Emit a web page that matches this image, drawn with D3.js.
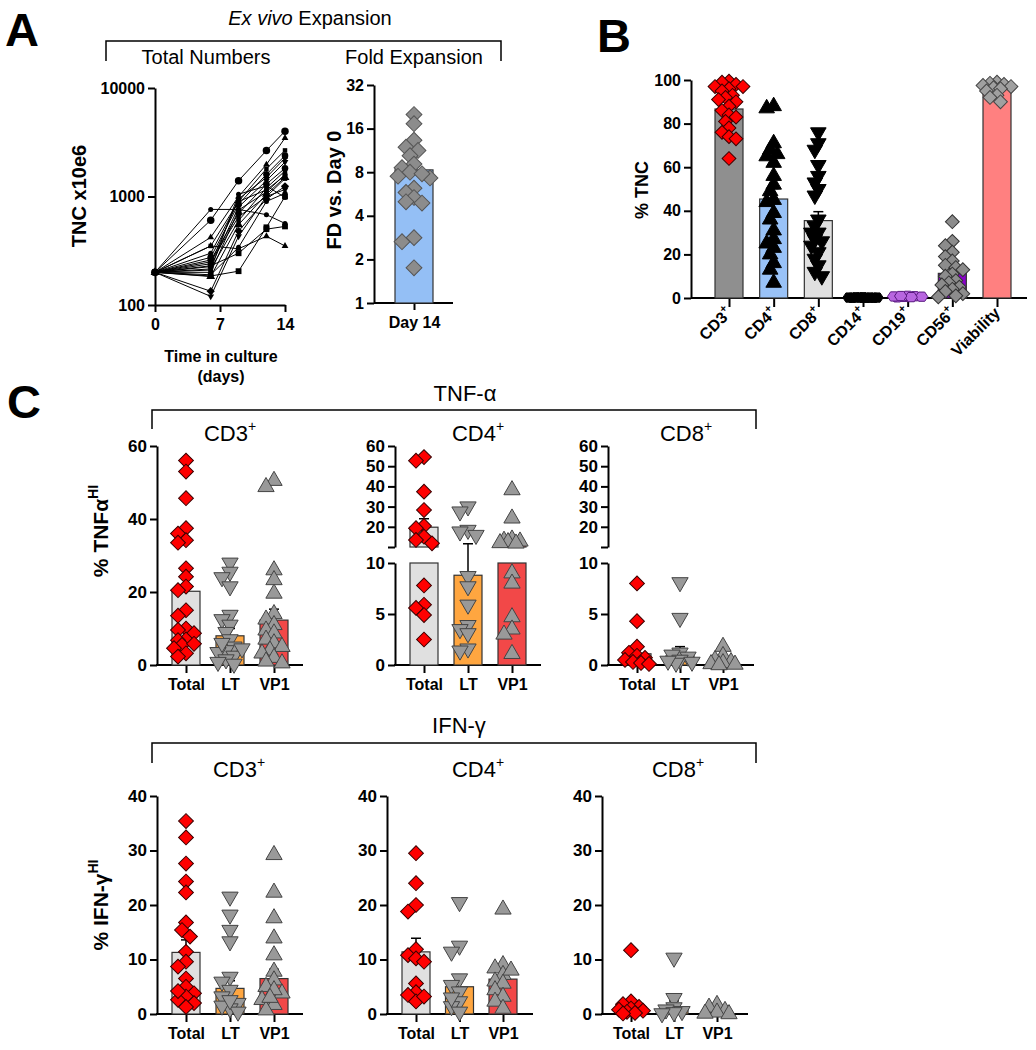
<!DOCTYPE html>
<html><head><meta charset="utf-8">
<script src="https://cdn.jsdelivr.net/npm/d3@7"></script>
<style>body{margin:0;background:#fff}</style>
</head><body>
<svg id="c" width="1036" height="1050"></svg>
<script>
// ================= DATA =================
// Panel A – total nucleated cells (x10e6) per donor over culture days
const days = [0, 6, 9, 12, 14];
const donorTNC = [
  [200, 605, 1400, 2650, 4000],
  [200, 420, 1000, 1970, 3460],
  [200, 350, 900, 1800, 2660],
  [200, 275, 850, 1600, 2380],
  [200, 240, 950, 1500, 2260],
  [200, 226, 800, 1400, 2080],
  [200, 260, 700, 1300, 1820],
  [200, 215, 600, 1200, 1720],
  [200, 200, 750, 1100, 1600],
  [200, 183, 550, 1050, 1500],
  [200, 250, 650, 1000, 1460],
  [200, 300, 900, 1150, 1560],
  [200, 134, 480, 950, 1240],
  [200, 120, 430, 1000, 1160],
  [200, 190, 340, 900, 1070],
  [200, 185, 205, 520, 1000],
  [200, 760, 760, 680, 565],
  [200, 350, 330, 430, 350],
  [200, 230, 300, 500, 530],
  [200, 210, 1050, 1250, 980]
];
const tncTicks = [100, 1000, 10000];
const dayTicks = [0, 7, 14];
const foldTicks = [1, 2, 4, 8, 16, 32];
const foldCategory = ["Day 14"];
const foldMean = [8.3];

// Panel B – phenotype (% TNC)
const pbCategories = ["CD3", "CD4", "CD8", "CD14", "CD19", "CD56", "Viability"];
const pbSuper = ["+", "+", "+", "+", "+", "+", ""];
const pbMeans = [86.7, 45.4, 35.5, 0.2, 0.6, 11.3, 96.7];
const pbSem = [2.2, 4.8, 4.1, 0.05, 0.1, 2.1, 0.6];
const pbCD3 = [99.5, 99, 98, 97, 96, 95, 93, 92, 90, 88, 86, 84, 83, 81, 78, 76, 74, 73, 64, 91, 97];
const pbCD4 = [88, 87, 71, 68, 66, 65, 62, 56, 52, 49, 45, 44, 39, 36, 31, 27, 25, 23, 20, 16, 13, 7];
const pbCD8 = [76, 71, 68, 61, 56, 53, 50, 47, 36, 33, 30, 27, 24, 21, 18, 15, 12, 10, 26, 30];
const pbCD14 = [0.2, 0.1, 0.3, 0.1, 0.2, 0.2, 0.1, 0.3, 0.2, 0.1];
const pbCD19 = [0.5, 0.8, 1.0, 0.3, 0.6, 0.7, 0.4, 0.9];
const pbCD56 = [35, 26, 24, 21, 19, 17, 15, 14, 13, 11, 10, 8, 7, 6, 5, 4, 3, 2, 1, 0.5];
const pbViability = [99, 98.5, 98, 97.5, 97, 96.5, 96, 95, 93, 92, 90];
const yTicksB = [0, 20, 40, 60, 80, 100];

// Panel C – antigen specific cytokine production
const cCategories = ["Total", "LT", "VP1"];
const tnfCD3Total = [56, 53, 45.7, 37.5, 36, 34.2, 33.5, 26.5, 24.2, 21.5, 20.5, 15, 13.5, 10, 9.6, 8.7, 7, 6.8, 5.5, 4.6, 3.2, 2.3, 5.8];
const tnfCD3LT = [28, 25.5, 24, 21.5, 13.7, 12.5, 11, 9, 7, 5, 4, 3.5, 2.5, 1.5, 0.8, 0.3, 4.5, 6];
const tnfCD3VP1 = [50.5, 48.8, 26, 23.3, 19.6, 14, 12.5, 11, 9.5, 8.7, 7, 6, 5, 4, 3.2, 2, 1, 0.5];
const tnfCD3Mean = [20.2, 8.0, 12.3];
const tnfCD3Sem = [3.3, 2.0, 3.0];
const tnfCD4Total = [54.5, 52.7, 37.4, 28.3, 20.4, 19.3, 15.1, 13.5, 11.8, 7.8, 5.9, 5.6, 4.9, 2.5];
const tnfCD4LT = [30, 27.5, 18.4, 17.6, 15.9, 8.7, 7.7, 5.9, 3.9, 3.5, 3.1, 1.6, 1.4];
const tnfCD4VP1 = [38.2, 24.2, 13.8, 13.2, 12.8, 12.5, 12, 11.8, 9, 8, 4.7, 3.5, 3, 1.1];
const tnfCD4Mean = [19.8, 8.8, 10.8];
const tnfCD4Sem = [4.2, 2.8, 2.9];
const tnfCD8Total = [8, 4.3, 1.8, 1.2, 0.9, 0.7, 0.5, 0.3, 0.2, 0.1];
const tnfCD8LT = [8.1, 4.6, 1.2, 1.0, 0.8, 0.5, 0.3, 0.2, 0.4];
const tnfCD8VP1 = [1.8, 0.9, 0.5, 0.3, 0.2, 0.1, 0.05, 0.0];
const tnfCD8Mean = [1.1, 0.9, 0.3];
const tnfCD8Sem = [0.8, 0.9, 0.2];
const ifnCD3Total = [35.4, 32.4, 27.6, 24.3, 22.3, 16.8, 15.4, 14.2, 11.4, 9.6, 8.7, 6.5, 5, 3.8, 3.2, 2.6, 2, 1.3, 4.2];
const ifnCD3LT = [21.5, 18.2, 15.4, 13.3, 6.8, 5.9, 4.4, 3.2, 2, 1, 0.4, 1.5, 2.5];
const ifnCD3VP1 = [29.2, 22.3, 17.6, 13.9, 10.8, 7.8, 6.2, 5, 3.8, 2.6, 1.7, 0.7, 4.4, 3];
const ifnCD3Mean = [11.3, 4.7, 6.5];
const ifnCD3Sem = [2.3, 1.4, 1.7];
const ifnCD4Total = [29.5, 24, 20, 18.8, 11.9, 10.8, 10.2, 9.6, 5.6, 4, 3.5, 2.3, 3.2];
const ifnCD4LT = [20.5, 12.5, 11.4, 6.5, 5.3, 4.1, 2.3, 1.4, 0.4, 3];
const ifnCD4VP1 = [19.2, 9, 8.4, 7.2, 8, 6, 5.6, 4.4, 3.2, 2.3, 1];
const ifnCD4Mean = [11.4, 5.0, 6.4];
const ifnCD4Sem = [2.5, 1.9, 1.6];
const ifnCD8Total = [11.7, 2.3, 1.8, 1.3, 1.0, 0.6, 0.4, 0.2, 0.8, 0.1];
const ifnCD8LT = [10.3, 2.9, 1.2, 0.8, 0.5, 0.3, 0.1];
const ifnCD8VP1 = [1.7, 1.2, 0.6, 0.3, 0.1, 0.0];
const ifnCD8Mean = [1.1, 1.0, 0.3];
const ifnCD8Sem = [1.1, 1.4, 0.2];
const tnfLinTicks = [0, 20, 40, 60];
const tnfLowTicks = [0, 5, 10];
const tnfHighTicks = [10, 20, 30, 40, 50, 60];
const ifnTicks = [0, 10, 20, 30, 40];

// ================= DRAWING =================
const FONT = '"Liberation Sans", Arial, Helvetica, sans-serif';
const svg = d3.select("#c").attr("font-family", FONT);

function txt(g, x, y, s, o = {}) {
  return g.append("text").attr("x", x).attr("y", y).text(s)
    .attr("font-size", o.size || 14).attr("font-weight", o.bold ? "bold" : "normal")
    .attr("font-style", o.italic ? "italic" : "normal")
    .attr("text-anchor", o.anchor || "middle").attr("fill", "#000")
    .attr("font-family", FONT);
}
function supText(g, x, y, main, sup, o = {}) {
  const t = g.append("text").attr("x", x).attr("y", y)
    .attr("font-size", o.size || 14).attr("font-weight", o.bold ? "bold" : "normal")
    .attr("text-anchor", o.anchor || "middle").attr("fill", "#000").attr("font-family", FONT);
  if (o.transform) t.attr("transform", o.transform).attr("x", 0).attr("y", 0);
  t.append("tspan").text(main);
  if (sup) t.append("tspan").text(sup).attr("font-size", o.supSize || 10).attr("dy", o.supDy || -8);
  return t;
}
function styleAxis(a, size) {
  a.attr("font-family", FONT).attr("font-size", size);
  a.selectAll("path.domain").attr("stroke", "#000").attr("stroke-width", 2);
  a.selectAll(".tick line").attr("stroke", "#000").attr("stroke-width", 2);
  a.selectAll(".tick text").attr("fill", "#000").attr("font-weight", "bold").attr("font-size", size);
}
function yAxis(g, scale, x, ticks, size, fmt) {
  const ax = d3.axisLeft(scale).tickValues(ticks).tickSize(7).tickPadding(3).tickSizeOuter(0);
  if (fmt) ax.tickFormat(fmt);
  const a = g.append("g").attr("transform", `translate(${x},0)`).call(ax);
  styleAxis(a, size);
  return a;
}
function xCatAxis(g, scale, y0, x1, x2, size, tickLen, pad) {
  const ax = d3.axisBottom(scale).tickSize(tickLen).tickPadding(pad).tickSizeOuter(0);
  const a = g.append("g").attr("transform", `translate(0,${y0})`).call(ax);
  styleAxis(a, size);
  a.select("path.domain").remove();
  g.append("line").attr("x1", x1).attr("x2", x2).attr("y1", y0).attr("y2", y0)
    .attr("stroke", "#000").attr("stroke-width", 2);
  return a;
}
function symbolPath(shape, size) {
  if (shape === "hex") {
    const rx = Math.sqrt(size / 2.6) * 1.15, ry = rx * 0.75;
    return `M${rx},0L${rx / 2},${ry}L${-rx / 2},${ry}L${-rx},0L${-rx / 2},${-ry}L${rx / 2},${-ry}Z`;
  }
  const type = { circle: d3.symbolCircle, square: d3.symbolSquare, diamond: d3.symbolSquare,
    triUp: d3.symbolTriangle, triDown: d3.symbolTriangle }[shape];
  return d3.symbol(type, size)();
}
const symRot = { diamond: 45, triDown: 180 };

function dodge(ys, cx, minDist, step, maxOff) {
  const order = d3.range(ys.length).sort((a, b) => d3.ascending(ys[a], ys[b]));
  const xs = new Array(ys.length), placed = [];
  const nK = 2 * Math.floor(maxOff / step);
  for (const i of order) {
    let best = 0, bestScore = -1;
    for (let k = 0; k <= nK; k++) {
      const off = (k % 2 ? -1 : 1) * Math.ceil(k / 2) * step;
      let md = Infinity;
      for (const p of placed) md = Math.min(md, Math.hypot(p[0] - (cx + off), p[1] - ys[i]));
      if (md >= minDist) { best = off; break; }
      if (md > bestScore) { bestScore = md; best = off; }
    }
    xs[i] = cx + best; placed.push([cx + best, ys[i]]);
  }
  return xs;
}

// generic bar + scatter
function barScatter(g, o) {
  o.cats.forEach((c, i) => {
    const cx = o.x(c), m = o.means[i];
    o.segs.forEach(sg => {
      const top = Math.min(m, sg.d[1]), bot = sg.d[0];
      if (top > bot) {
        g.append("rect").attr("x", cx - o.barW / 2).attr("width", o.barW)
          .attr("y", sg.s(top)).attr("height", sg.s(bot) - sg.s(top))
          .attr("fill", o.barFill[i]).attr("stroke", o.barStroke).attr("stroke-width", 1.2);
      }
    });
  });
  if (o.sems) o.cats.forEach((c, i) => {
    const cx = o.x(c), m = o.means[i], t = m + o.sems[i];
    g.append("line").attr("x1", cx).attr("x2", cx).attr("y1", o.yf(m)).attr("y2", o.yf(t))
      .attr("stroke", "#000").attr("stroke-width", 1.5);
    g.append("line").attr("x1", cx - 5).attr("x2", cx + 5).attr("y1", o.yf(t)).attr("y2", o.yf(t))
      .attr("stroke", "#000").attr("stroke-width", 1.5);
  });
  o.cats.forEach((c, i) => {
    const vals = o.groups[i];
    const ys = vals.map(o.yf);
    const xs = dodge(ys, o.x(c), o.minDist, o.step, o.maxOff);
    const sh = o.shape[i];
    const path = symbolPath(sh, o.size[i] || o.size);
    g.append("g").selectAll("path").data(vals).join("path")
      .attr("d", path)
      .attr("transform", (d, j) => `translate(${xs[j]},${ys[j]}) rotate(${symRot[sh] || 0})`)
      .attr("fill", o.ptFill[i]).attr("stroke", o.ptStroke[i]).attr("stroke-width", 1);
  });
}

// ---------- Panel letters ----------
txt(svg, 5, 46, "A", { size: 47, bold: true, anchor: "start" });
txt(svg, 597, 52, "B", { size: 47, bold: true, anchor: "start" });
txt(svg, 7, 418, "C", { size: 47, bold: true, anchor: "start" });

// ---------- Panel A ----------
const gA = svg.append("g");
{
  const t = gA.append("text").attr("x", 310).attr("y", 25).attr("text-anchor", "middle")
    .attr("font-size", 20).attr("font-family", FONT);
  t.append("tspan").text("Ex vivo").attr("font-style", "italic");
  t.append("tspan").text(" Expansion");
}
gA.append("path").attr("d", "M106,61V41H501V61").attr("fill", "none").attr("stroke", "#000").attr("stroke-width", 1.5);
txt(gA, 206, 64, "Total Numbers", { size: 20 });
txt(gA, 414, 64, "Fold Expansion", { size: 20 });

const xA = d3.scaleLinear().domain([0, 14]).range([155, 285]);
const yA = d3.scaleLog().domain([100, 10000]).range([305, 88]);
yAxis(gA, yA, 155, tncTicks, 16, d3.format("d"));
{
  const ax = d3.axisBottom(xA).tickValues(dayTicks).tickSize(7).tickPadding(7).tickSizeOuter(0);
  const a = gA.append("g").attr("transform", "translate(0,305)").call(ax);
  styleAxis(a, 16);
}
const shapeCycle = ["circle", "triUp", "square", "circle", "diamond", "triDown", "circle", "square"];
const line = d3.line().x((d, i) => xA(days[i])).y(d => yA(d));
donorTNC.forEach((dn, k) => {
  gA.append("path").attr("d", line(dn)).attr("fill", "none").attr("stroke", "#000").attr("stroke-width", 1);
});
donorTNC.forEach((dn, k) => {
  const sh = shapeCycle[k % shapeCycle.length];
  const sz = k === 0 ? 44 : (k % 3 === 0 ? 34 : 20);
  gA.append("g").selectAll("path").data(dn).join("path")
    .attr("d", symbolPath(sh, sz))
    .attr("transform", (d, i) => `translate(${xA(days[i])},${yA(d)}) rotate(${symRot[sh] || 0})`)
    .attr("fill", "#000");
});
txt(gA, 0, 0, "TNC x10e6", { size: 20, bold: true }).attr("transform", "translate(86,196) rotate(-90)");
txt(gA, 221, 362, "Time in culture", { size: 16, bold: true });
txt(gA, 221, 382, "(days)", { size: 16, bold: true });

// fold expansion
const yF = d3.scaleLog().base(2).domain([1, 32]).range([303, 85]);
const xF = d3.scalePoint().domain(foldCategory).range([414, 414]);
yAxis(gA, yF, 374, foldTicks, 16, d3.format("d"));
xCatAxis(gA, xF, 303, 374, 453, 16, 7, 7);
barScatter(gA, {
  x: xF, cats: foldCategory, yf: yF, segs: [{ d: [1, 1e9], s: yF }], means: foldMean, sems: null,
  groups: [donorTNC.map(d => d[4] / d[0])], barFill: ["#94bff5"], barStroke: "#333", barW: 38,
  shape: ["diamond"], ptFill: ["#8c8c8c"], ptStroke: ["#555"], size: [125], minDist: 9, step: 4, maxOff: 17
});
txt(gA, 0, 0, "FD vs. Day 0", { size: 20, bold: true }).attr("transform", "translate(341,190) rotate(-90)");

// ---------- Panel B ----------
const gB = svg.append("g");
const yB = d3.scaleLinear().domain([0, 100]).range([298, 80]);
const xB = d3.scalePoint().domain(pbCategories).range([729, 997]);
yAxis(gB, yB, 691, yTicksB, 16);
{
  const a = xCatAxis(gB, xB, 298, 691, 1027, 16, 9, 5);
  a.selectAll(".tick text").remove();
}
barScatter(gB, {
  x: xB, cats: pbCategories, yf: yB, segs: [{ d: [0, 1e9], s: yB }], means: pbMeans, sems: pbSem,
  groups: [pbCD3, pbCD4, pbCD8, pbCD14, pbCD19, pbCD56, pbViability],
  barFill: ["#8f8f8f", "#99c2f7", "#e0e0e0", "#222", "#b35ee0", "#8a00cc", "#ff8080"], barStroke: "#333", barW: 28,
  shape: ["diamond", "triUp", "triDown", "hex", "hex", "diamond", "diamond"],
  ptFill: ["#ff0000", "#000", "#000", "#000", "#b866e0", "#8c8c8c", "#a0a0a0"],
  ptStroke: ["#3a0000", "#000", "#000", "#000", "#5a1a80", "#333", "#444"],
  size: [95, 105, 105, 75, 75, 95, 95], minDist: 7, step: 3.5, maxOff: 14
});
pbCategories.forEach((c, i) => {
  supText(gB, 0, 0, c, pbSuper[i], { size: 16, bold: true, anchor: "end", supSize: 11, supDy: -7,
    transform: `translate(${xB(c) + 4},${314}) rotate(-45)` });
});
txt(gB, 0, 0, "% TNC", { size: 18, bold: true }).attr("transform", "translate(648,190) rotate(-90)");

// ---------- Panel C ----------
const gC = svg.append("g");
txt(gC, 465, 401, "TNF-\u03b1", { size: 22 });
gC.append("path").attr("d", "M152,429V410H756V429").attr("fill", "none").attr("stroke", "#000").attr("stroke-width", 1.5);
txt(gC, 459, 733, "IFN-\u03b3", { size: 22 });
gC.append("path").attr("d", "M152,763V743H756V763").attr("fill", "none").attr("stroke", "#000").attr("stroke-width", 1.5);

const cFill = ["#e0e0e0", "#ffa640", "#f24848"];
const cShape = ["diamond", "triDown", "triUp"];
const cPtFill = ["#ff0000", "#999999", "#999999"];
const cPtStroke = ["#3a0000", "#444", "#444"];

function cPanel(axisX, spacing, y0, yDesc, groups, means, sems, ticksDraw, subX, subY, sub) {
  const g = gC.append("g");
  const x = d3.scalePoint().domain(cCategories).range([axisX + 29, axisX + 29 + 2 * spacing]);
  ticksDraw(g);
  xCatAxis(g, x, y0, axisX - 1, axisX + 146, 16, 8, 6);
  barScatter(g, {
    x, cats: cCategories, yf: yDesc.f, segs: yDesc.segs, means, sems, groups,
    barFill: cFill, barStroke: "#333", barW: 28, shape: cShape, ptFill: cPtFill, ptStroke: cPtStroke,
    size: [110, 115, 115], minDist: 8, step: 4, maxOff: 13
  });
  supText(g, subX, subY, sub, "+", { size: 22, supSize: 14, supDy: -10 });
}
const yT = d3.scaleLinear().domain([0, 60]).range([665, 446]);
const linT = { f: yT, segs: [{ d: [0, 1e9], s: yT }] };
const yLo = d3.scaleLinear().domain([0, 10]).range([665, 563]);
const yHi = d3.scaleLinear().domain([10, 60]).range([547, 446]);
const brokenT = { f: v => (v <= 10 ? yLo(v) : yHi(v)), segs: [{ d: [0, 10], s: yLo }, { d: [10, 60], s: yHi }] };
const brokenAxis = ax => g => {
  yAxis(g, yLo, ax, tnfLowTicks, 17);
  yAxis(g, yHi, ax, tnfHighTicks, 17, v => (v === 10 ? "" : v));
};
cPanel(157, 44, 665, linT, [tnfCD3Total, tnfCD3LT, tnfCD3VP1], tnfCD3Mean, tnfCD3Sem,
  g => yAxis(g, yT, 157, tnfLinTicks, 17), 230, 441, "CD3");
cPanel(395, 44, 665, brokenT, [tnfCD4Total, tnfCD4LT, tnfCD4VP1], tnfCD4Mean, tnfCD4Sem,
  brokenAxis(395), 478, 441, "CD4");
cPanel(608, 43, 665, brokenT, [tnfCD8Total, tnfCD8LT, tnfCD8VP1], tnfCD8Mean, tnfCD8Sem,
  brokenAxis(608), 686, 441, "CD8");

const yI = d3.scaleLinear().domain([0, 40]).range([1014, 796]);
const linI = { f: yI, segs: [{ d: [0, 1e9], s: yI }] };
cPanel(157, 44, 1014, linI, [ifnCD3Total, ifnCD3LT, ifnCD3VP1], ifnCD3Mean, ifnCD3Sem,
  g => yAxis(g, yI, 157, ifnTicks, 17), 239, 777, "CD3");
cPanel(387, 43.5, 1014, linI, [ifnCD4Total, ifnCD4LT, ifnCD4VP1], ifnCD4Mean, ifnCD4Sem,
  g => yAxis(g, yI, 387, ifnTicks, 17), 478, 777, "CD4");
cPanel(602, 43, 1014, linI, [ifnCD8Total, ifnCD8LT, ifnCD8VP1], ifnCD8Mean, ifnCD8Sem,
  g => yAxis(g, yI, 602, ifnTicks, 17), 678, 777, "CD8");

supText(gC, 0, 0, "% TNF\u03b1", "HI", { size: 21, bold: true, supSize: 14, supDy: -10,
  transform: "translate(108,531) rotate(-90)" });
supText(gC, 0, 0, "% IFN-\u03b3", "HI", { size: 21, bold: true, supSize: 14, supDy: -10,
  transform: "translate(108,905) rotate(-90)" });
</script>
</body></html>
